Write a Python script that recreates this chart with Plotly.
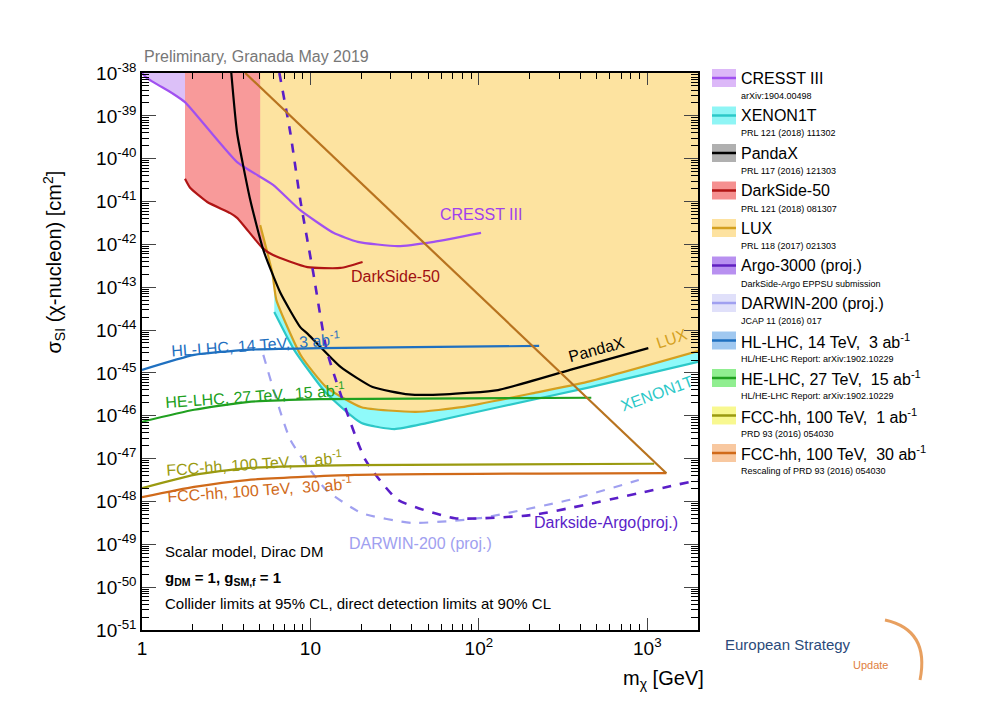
import numpy as np
import plotly.graph_objects as go

# ---- data (x in GeV, y as log10 of sigma in cm^2) ----
cresst_x = [1.0, 1.07, 1.51, 1.8, 3.67, 6.0, 8.7, 13.7, 19.1, 33, 54, 103]
cresst_lg = [-38.0, -38.12, -38.47, -38.68, -40.08, -40.61, -41.2, -41.73, -41.94, -42.04, -41.94, -41.73]

ds50_x = [1.8, 1.93, 2.44, 3.34, 3.67, 5.18, 6.0, 9.6, 15.1, 20.4]
ds50_lg = [-40.47, -40.68, -41.01, -41.27, -41.38, -42.08, -42.25, -42.53, -42.55, -42.41]

pandax_x = [3.39, 3.67, 4.39, 5.25, 6.63, 8.7, 9.7, 15.1, 23.4, 38.3, 62.8, 130, 348, 1014]
pandax_lg = [-38.0, -39.4, -40.96, -42.13, -43.13, -43.93, -44.1, -44.86, -45.33, -45.5, -45.5, -45.4, -44.93, -44.42]

lux_x = [5.03, 5.94, 6.28, 8.8, 12.4, 20.1, 42.2, 79, 212, 440, 2000]
lux_lg = [-41.55, -42.67, -43.3, -44.6, -45.33, -45.8, -45.91, -45.8, -45.47, -45.21, -44.49]

xenon_x = [6.1, 8.0, 12.4, 20.1, 31.6, 49, 130, 440, 2000]
xenon_lg = [-43.58, -44.46, -45.47, -46.17, -46.31, -46.17, -45.8, -45.35, -44.74]

argo_x = [6.54, 7.6, 8.7, 10.4, 12.6, 21.2, 33, 72, 212, 2000]
argo_lg = [-38.0, -39.4, -40.96, -42.67, -44.53, -47.03, -47.96, -48.39, -48.31, -47.5]

darwin_x = [5.25, 7.6, 12.4, 20.1, 40, 101, 348, 890]
darwin_lg = [-44.58, -46.56, -47.73, -48.27, -48.5, -48.39, -47.96, -47.5]

hllhc_x = [1.0, 2.04, 4.2, 11.3, 228]
hllhc_lg = [-44.93, -44.58, -44.46, -44.42, -44.37]

helhc_x = [1.0, 2.04, 4.2, 11.3, 465]
helhc_lg = [-46.14, -45.86, -45.68, -45.61, -45.58]

fcc1_x = [1.0, 2.04, 4.2, 18.3, 1098]
fcc1_lg = [-47.69, -47.38, -47.22, -47.15, -47.12]

fcc30_x = [1.0, 2.04, 4.2, 18.3, 1298]
fcc30_lg = [-47.9, -47.66, -47.5, -47.38, -47.34]

diag_x = [4.1, 1298]
diag_lg = [-38.0, -47.34]

TOP = 1e-38
W, H = 1000, 714
OFF = 8  # page body margin in the screenshot
L, R, T, B = 142 - OFF, 698 - OFF, 73 - OFF, 630 - OFF


def sig(lg):
    return list(np.power(10.0, lg))


def px(x):  # screenshot pixel -> paper
    return (x - OFF - L) / (R - L)


def py(y):
    return (B - (y - OFF)) / (B - T)


fig = go.Figure()


def fill_above(xs, lg, color):
    xx = list(xs) + [xs[-1], xs[0]]
    yy = sig(lg) + [TOP, TOP]
    fig.add_trace(go.Scatter(x=xx, y=yy, fill="toself", fillcolor=color, mode="none",
                             hoverinfo="skip", showlegend=False))


def line(xs, lg, color, width=2.2, dash="solid"):
    fig.add_trace(go.Scatter(x=xs, y=sig(lg), mode="lines",
                             line=dict(color=color, width=width, dash=dash, shape="spline", smoothing=0.5),
                             hoverinfo="skip", showlegend=False))


# fills
fill_above(cresst_x, cresst_lg, "#dcc0f8")
fill_above(ds50_x, ds50_lg, "#f89a9a")
fill_above(xenon_x, xenon_lg, "#8ffafa")
fill_above(lux_x, lux_lg, "#fde3a0")

# lines
line(xenon_x, xenon_lg, "#2cc8c8")
line(lux_x, lux_lg, "#d4a020")
line(cresst_x, cresst_lg, "#a050f0")
line(ds50_x, ds50_lg, "#b01515")
line(pandax_x, pandax_lg, "black")
line(darwin_x, darwin_lg, "#a0a0f0", dash="dash")
line(argo_x, argo_lg, "#5a1ec8", width=2.6, dash="dash")
line(hllhc_x, hllhc_lg, "#1f70c0")
line(helhc_x, helhc_lg, "#20a020")
line(fcc1_x, fcc1_lg, "#9a9a10")
line(fcc30_x, fcc30_lg, "#d06a1a")
fig.add_trace(go.Scatter(x=diag_x, y=sig(diag_lg), mode="lines", line=dict(color="#b8731f", width=2.2),
                         hoverinfo="skip", showlegend=False))

font = "Liberation Sans, Arial, sans-serif"
ann = []


def lab(x, lg, text, color, angle=0, size=16):
    ann.append(dict(x=np.log10(x), y=lg, text=text, showarrow=False, textangle=angle,
                    font=dict(color=color, size=size, family=font)))


lab(103, -41.31, "CRESST III", "#a040ee")
lab(32, -42.76, "DarkSide-50", "#a01010")
lab(4.7, -44.33, "HL-LHC, 14 TeV,  3 ab<sup>-1</sup>", "#1f70c0", -4)
lab(4.7, -45.52, "HE-LHC, 27 TeV,  15 ab<sup>-1</sup>", "#20a020", -4)
lab(4.6, -47.1, "FCC-hh, 100 TeV,  1 ab<sup>-1</sup>", "#9a9a10", -4)
lab(5.0, -47.7, "FCC-hh, 100 TeV,  30 ab<sup>-1</sup>", "#d06a1a", -4)
lab(45, -48.97, "DARWIN-200 (proj.)", "#a0a0f0")
lab(570, -48.48, "Darkside-Argo(proj.)", "#5a1ec8")
lab(500, -44.46, "PandaX", "black", -15)
lab(1400, -44.2, "LUX", "#d4a020", -18)
lab(1140, -45.47, "XENON1T", "#2cc8c8", -20)

for yy, txt in [(562, "Scalar model, Dirac DM"),
                (590, "<b>g<sub>DM</sub> = 1, g<sub>SM,f</sub> = 1</b>"),
                (614, "Collider limits at 95% CL, direct detection limits at 90% CL")]:
    ann.append(dict(xref="paper", yref="paper", x=px(163), y=py(yy), xanchor="left", text=txt,
                    showarrow=False, font=dict(size=15, family=font, color="black")))

ann.append(dict(xref="paper", yref="paper", x=px(142), y=py(46), xanchor="left", text="Preliminary, Granada May 2019",
                showarrow=False, font=dict(size=16, family=font, color="#777777")))
ann.append(dict(xref="paper", yref="paper", x=px(38), y=py(262), text="σ<sub>SI</sub> (χ-nucleon) [cm<sup>2</sup>]",
                textangle=-90, showarrow=False, font=dict(size=20, family=font, color="black")))
ann.append(dict(xref="paper", yref="paper", x=px(706), y=py(694), xanchor="right", text="m<sub>χ</sub> [GeV]",
                showarrow=False, font=dict(size=20, family=font, color="black")))
ann.append(dict(xref="paper", yref="paper", x=px(853), y=py(655), text="European Strategy",
                showarrow=False, font=dict(size=15, family=font, color="#2b4a7a")))
ann.append(dict(xref="paper", yref="paper", x=px(890), y=py(673), text="Update",
                showarrow=False, font=dict(size=11, family=font, color="#e08040")))

# legend built by hand
legend_names = ["CRESST III", "XENON1T", "PandaX", "DarkSide-50", "LUX", "Argo-3000 (proj.)",
                "DARWIN-200 (proj.)", "HL-LHC, 14 TeV,  3 ab<sup>-1</sup>", "HE-LHC, 27 TeV,  15 ab<sup>-1</sup>",
                "FCC-hh, 100 TeV,  1 ab<sup>-1</sup>", "FCC-hh, 100 TeV,  30 ab<sup>-1</sup>"]
legend_refs = ["arXiv:1904.00498", "PRL 121 (2018) 111302", "PRL 117 (2016) 121303", "PRL 121 (2018) 081307",
               "PRL 118 (2017) 021303", "DarkSide-Argo EPPSU submission", "JCAP 11 (2016) 017",
               "HL/HE-LHC Report: arXiv:1902.10229", "HL/HE-LHC Report: arXiv:1902.10229",
               "PRD 93 (2016) 054030", "Rescaling of PRD 93 (2016) 054030"]
legend_fill = ["#dcb8f8", "#8ff5f5", "#b0b0b0", "#f59090", "#fde2a0", "#b890f0", "#e0e0fa",
               "#a0c8f0", "#90ee90", "#f8f890", "#f8c8a0"]
legend_line = ["#a050f0", "#2cc8c8", "black", "#b01515", "#d4a020", "#6020c0", "#a0a0f0",
               "#1f70c0", "#20a020", "#9a9a10", "#d06a1a"]
shapes = []
for i, name in enumerate(legend_names):
    yc = 78 + i * 37.5
    shapes.append(dict(type="rect", xref="paper", yref="paper", x0=px(712), x1=px(736), y0=py(yc + 9), y1=py(yc - 9),
                       fillcolor=legend_fill[i], line=dict(width=0)))
    shapes.append(dict(type="line", xref="paper", yref="paper", x0=px(712), x1=px(736), y0=py(yc), y1=py(yc),
                       line=dict(color=legend_line[i], width=2.5)))
    ann.append(dict(xref="paper", yref="paper", x=px(739), y=py(yc), xanchor="left", yanchor="middle", text=name,
                    showarrow=False, font=dict(size=16, family=font, color="black")))
    ann.append(dict(xref="paper", yref="paper", x=px(739), y=py(yc + 18), xanchor="left", yanchor="middle",
                    text=legend_refs[i], showarrow=False, font=dict(size=9, family=font, color="black")))

# logo ring
shapes.append(dict(type="path", xref="paper", yref="paper",
                   path=f"M {px(885)},{py(620)} Q {px(930)},{py(630)} {px(920)},{py(680)}",
                   line=dict(color="#e8a060", width=3)))

ytick_v = [10.0 ** e for e in range(-51, -37)]
ytick_t = [f"10<sup>{e}</sup>" for e in range(-51, -37)]
ymin = [m * 10.0 ** e for e in range(-51, -38) for m in range(2, 10)]
xmin = [m * 10.0 ** e for e in range(0, 4) for m in range(2, 10) if m * 10.0 ** e < 2000]

fig.update_layout(
    width=W, height=H, plot_bgcolor="white", paper_bgcolor="white",
    margin=dict(l=L, r=W - R, t=T, b=H - B, autoexpand=False),
    annotations=ann, shapes=shapes, showlegend=False,
    xaxis=dict(type="log", range=[0, np.log10(2000)], tickvals=[1, 10, 100, 1000],
               ticktext=["1", "10", "10<sup>2</sup>", "10<sup>3</sup>"], ticks="inside", ticklen=12,
               mirror="allticks", showline=True, linecolor="black", linewidth=1.5, showgrid=False,
               tickfont=dict(size=19, family=font, color="black"),
               minor=dict(tickvals=xmin, ticks="inside", ticklen=6, tickcolor="black", showgrid=False)),
    yaxis=dict(type="log", range=[-51, -38], tickvals=ytick_v, ticktext=ytick_t, ticks="inside", ticklen=14,
               mirror="allticks", showline=True, linecolor="black", linewidth=1.5, showgrid=False,
               tickfont=dict(size=19, family=font, color="black"),
               minor=dict(tickvals=ymin, ticks="inside", ticklen=7, tickcolor="black", showgrid=False)),
)

fig.write_html("out.html")
